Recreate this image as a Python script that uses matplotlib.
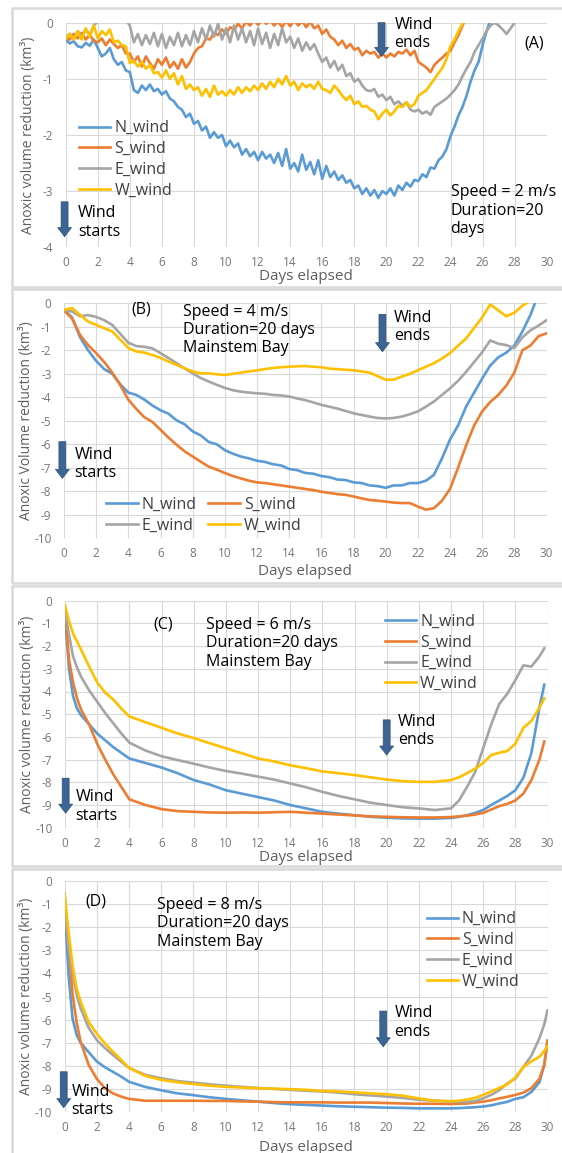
import numpy as np
import matplotlib.pyplot as plt
from matplotlib.patches import Rectangle

plt.rcParams['font.family'] = ['Open Sans', 'DejaVu Sans']
plt.rcParams['axes.unicode_minus'] = False

# ---------------- data ----------------
names = ['N_wind', 'S_wind', 'E_wind', 'W_wind']

# (A) 2 m/s, quarter-day readings
days_a = np.arange(0, 30.01, 0.25)
N_a = [-0.30, -0.37, -0.33, -0.42, -0.44, -0.36, -0.41, -0.30,
       -0.45, -0.60, -0.55, -0.45, -0.65, -0.75, -0.70, -0.85,
       -0.88, -1.20, -1.25, -1.12, -1.20, -1.10, -1.22, -1.18,
       -1.28, -1.22, -1.35, -1.40, -1.50, -1.55, -1.68, -1.62,
       -1.80, -1.75, -1.92, -1.85, -2.05, -1.95, -2.05, -2.00,
       -2.20, -2.10, -2.22, -2.15, -2.35, -2.25, -2.38, -2.30,
       -2.45, -2.30, -2.42, -2.35, -2.50, -2.32, -2.55, -2.25,
       -2.60, -2.50, -2.65, -2.35, -2.62, -2.48, -2.70, -2.45,
       -2.78, -2.55, -2.75, -2.65, -2.80, -2.72, -2.85, -2.80,
       -2.95, -2.90, -3.05, -2.95, -3.08, -2.98, -3.12, -3.00,
       -3.05, -2.95, -3.08, -2.90, -2.98, -2.85, -2.92, -2.80,
       -2.82, -2.70, -2.75, -2.58, -2.60, -2.45, -2.38, -2.25,
       -2.02, -1.85, -1.65, -1.50, -1.30, -1.05, -0.85, -0.70,
       -0.40, -0.15, 0.05, 0.20, 0.35]
S_a = [-0.25, -0.30, -0.20, -0.28, -0.18, -0.30, -0.22, -0.32,
       -0.35, -0.28, -0.40, -0.30, -0.38, -0.45, -0.40, -0.55,
       -0.55, -0.70, -0.60, -0.78, -0.60, -0.72, -0.82, -0.65,
       -0.75, -0.62, -0.80, -0.70, -0.82, -0.65, -0.80, -0.70,
       -0.55, -0.45, -0.42, -0.28, -0.30, -0.18, -0.22, -0.12,
       -0.20, -0.08, -0.12, -0.02, -0.10, 0.02, -0.05, 0.05,
       -0.04, 0.05, -0.02, 0.04, -0.05, 0.02, -0.08, 0.03,
       -0.06, 0.04, -0.05, 0.03, -0.08, 0.02, -0.10, -0.05,
       -0.20, -0.12, -0.25, -0.30, -0.40, -0.32, -0.45, -0.38,
       -0.48, -0.45, -0.58, -0.50, -0.55, -0.52, -0.62, -0.55,
       -0.62, -0.55, -0.60, -0.52, -0.55, -0.48, -0.58, -0.50,
       -0.70, -0.75, -0.80, -0.88, -0.75, -0.68, -0.62, -0.55,
       -0.50, -0.35, -0.22, -0.05, 0.10]
E_a = [-0.28, -0.20, -0.30, -0.15, -0.25, -0.12, -0.22, -0.05,
       0.02, 0.10, 0.15, 0.15, 0.20, 0.15, 0.10, 0.05,
       -0.05, -0.35, -0.20, -0.40, -0.22, -0.38, -0.18, -0.42,
       -0.20, -0.45, -0.25, -0.40, -0.18, -0.42, -0.22, -0.40,
       -0.15, -0.35, -0.10, -0.30, -0.05, -0.25, -0.02, -0.30,
       -0.10, -0.35, -0.05, -0.30, -0.10, -0.35, -0.15, -0.40,
       -0.10, -0.38, -0.18, -0.45, -0.20, -0.40, -0.10, -0.35,
       -0.25, -0.45, -0.28, -0.50, -0.35, -0.48, -0.38, -0.55,
       -0.70, -0.62, -0.80, -0.68, -0.85, -0.75, -0.95, -0.90,
       -1.05, -1.00, -1.12, -1.20, -1.22, -1.18, -1.32, -1.28,
       -1.38, -1.32, -1.45, -1.40, -1.48, -1.42, -1.55, -1.58,
       -1.55, -1.62, -1.58, -1.64, -1.50, -1.45, -1.40, -1.35,
       -1.28, -1.20, -1.10, -0.95, -0.82, -0.70, -0.52, -0.40,
       -0.28, -0.15, -0.05, 0.00, -0.05, -0.12, -0.20, -0.10,
       0.00]
W_a = [-0.28, -0.20, -0.30, -0.15, -0.30, -0.10, -0.25, -0.05,
       -0.28, -0.15, -0.22, -0.12, -0.35, -0.32, -0.40, -0.42,
       -0.72, -0.68, -0.78, -0.70, -0.82, -0.75, -0.90, -0.88,
       -0.98, -0.85, -1.00, -0.90, -1.10, -0.95, -1.18, -1.10,
       -1.20, -1.15, -1.30, -1.18, -1.32, -1.12, -1.28, -1.22,
       -1.30, -1.20, -1.28, -1.15, -1.25, -1.15, -1.22, -1.12,
       -1.20, -1.08, -1.18, -1.05, -1.15, -1.00, -1.10, -0.95,
       -1.12, -1.05, -1.20, -1.08, -1.15, -1.10, -1.18, -1.05,
       -1.18, -1.20, -1.25, -1.12, -1.20, -1.30, -1.38, -1.30,
       -1.45, -1.40, -1.50, -1.48, -1.55, -1.58, -1.72, -1.62,
       -1.55, -1.65, -1.58, -1.48, -1.50, -1.42, -1.50, -1.45,
       -1.30, -1.25, -1.20, -1.10, -1.00, -0.90, -0.80, -0.65,
       -0.42, -0.30, -0.15, -0.02, 0.10]

# (B) 4 m/s, half-day readings
days_b = np.arange(0, 30.01, 0.5)
N_b = [-0.28, -0.60, -1.45, -2.00, -2.45, -2.80, -3.00, -3.45, -3.80, -3.90,
       -4.10, -4.35, -4.55, -4.70, -4.98, -5.15, -5.45, -5.62, -5.90, -6.00,
       -6.25, -6.40, -6.52, -6.60, -6.70, -6.75, -6.85, -6.90, -7.05, -7.10,
       -7.22, -7.25, -7.35, -7.40, -7.50, -7.52, -7.62, -7.65, -7.75, -7.78,
       -7.85, -7.75, -7.75, -7.65, -7.65, -7.55, -7.30, -6.60, -5.80, -5.20,
       -4.40, -3.80, -3.20, -2.65, -2.30, -2.10, -1.80, -1.20, -0.50, 0.40,
       1.00]
S_b = [-0.30, -0.65, -1.35, -1.78, -2.12, -2.50, -2.95, -3.48, -4.10, -4.50,
       -4.85, -5.05, -5.38, -5.72, -6.02, -6.30, -6.52, -6.74, -6.95, -7.08,
       -7.22, -7.35, -7.45, -7.55, -7.62, -7.65, -7.70, -7.75, -7.80, -7.85,
       -7.90, -7.95, -8.02, -8.07, -8.12, -8.15, -8.22, -8.30, -8.37, -8.40,
       -8.44, -8.48, -8.50, -8.50, -8.65, -8.78, -8.72, -8.40, -7.90, -7.00,
       -6.05, -5.20, -4.60, -4.20, -3.90, -3.50, -2.95, -2.00, -1.80, -1.40,
       -1.28]
E_b = [-0.28, -0.35, -0.55, -0.50, -0.58, -0.72, -0.92, -1.30, -1.68, -1.82,
       -1.85, -1.92, -2.12, -2.33, -2.55, -2.77, -2.98, -3.18, -3.33, -3.47,
       -3.60, -3.70, -3.76, -3.80, -3.83, -3.85, -3.90, -3.92, -3.97, -4.05,
       -4.12, -4.22, -4.32, -4.40, -4.48, -4.58, -4.68, -4.75, -4.82, -4.88,
       -4.90, -4.88, -4.82, -4.72, -4.60, -4.40, -4.18, -3.90, -3.62, -3.30,
       -2.92, -2.50, -2.08, -1.58, -1.72, -1.78, -1.90, -1.45, -1.15, -0.95,
       -0.72]
W_b = [-0.28, -0.20, -0.50, -0.78, -0.92, -1.06, -1.20, -1.55, -1.90, -2.05,
       -2.10, -2.20, -2.32, -2.48, -2.62, -2.77, -2.90, -2.98, -2.98, -3.02,
       -3.05, -3.00, -2.95, -2.90, -2.85, -2.80, -2.75, -2.72, -2.70, -2.68,
       -2.67, -2.70, -2.72, -2.78, -2.80, -2.83, -2.85, -2.90, -2.95, -3.10,
       -3.25, -3.25, -3.12, -3.00, -2.85, -2.70, -2.55, -2.35, -2.12, -1.80,
       -1.50, -1.05, -0.60, -0.05, -0.30, -0.55, -0.40, -0.10, 0.10, 0.50,
       0.90]

# (C) 6 m/s
days_c = [0, 0.1, 0.25, 0.5, 0.75, 1, 1.5, 2, 2.5, 3, 3.5, 4,
          5, 6, 7, 8, 9, 10, 11, 12, 13, 14, 15, 16, 17, 18, 19, 20, 21, 22, 23, 24,
          24.5, 25, 25.5, 26, 26.5, 27, 27.5, 28, 28.5, 29, 29.5, 29.8]
N_c = [-0.40, -1.60, -3.00, -4.20, -4.75, -5.05, -5.45, -5.85, -6.15, -6.45, -6.70, -6.95,
       -7.15, -7.35, -7.60, -7.90, -8.10, -8.35, -8.50, -8.65, -8.80, -9.00, -9.15, -9.30,
       -9.38, -9.45, -9.52, -9.56, -9.59, -9.60, -9.60, -9.57,
       -9.52, -9.45, -9.35, -9.22, -9.00, -8.80, -8.60, -8.35, -7.80, -6.70, -4.70, -3.70]
S_c = [-0.30, -1.30, -2.60, -3.60, -4.30, -4.80, -5.45, -6.30, -7.00, -7.65, -8.20, -8.75,
       -9.00, -9.18, -9.27, -9.30, -9.33, -9.34, -9.33, -9.34, -9.32, -9.30, -9.34, -9.38,
       -9.42, -9.46, -9.50, -9.52, -9.54, -9.55, -9.55, -9.53,
       -9.50, -9.47, -9.42, -9.35, -9.20, -9.05, -8.95, -8.80, -8.50, -7.90, -7.00, -6.20]
E_c = [-0.30, -0.90, -1.50, -2.45, -2.95, -3.35, -3.95, -4.45, -4.95, -5.40, -5.85, -6.25,
       -6.60, -6.85, -7.02, -7.18, -7.35, -7.50, -7.62, -7.75, -7.88, -8.05, -8.22, -8.42,
       -8.60, -8.75, -8.90, -9.00, -9.10, -9.15, -9.22, -9.15,
       -8.80, -8.20, -7.55, -6.50, -5.45, -4.55, -4.10, -3.50, -2.85, -2.90, -2.45, -2.10]
W_c = [-0.20, -0.50, -0.90, -1.45, -1.80, -2.15, -2.90, -3.60, -4.05, -4.35, -4.75, -5.10,
       -5.35, -5.60, -5.85, -6.05, -6.28, -6.50, -6.72, -6.95, -7.08, -7.25, -7.38, -7.52,
       -7.60, -7.68, -7.78, -7.88, -7.95, -7.98, -7.98, -7.90,
       -7.78, -7.60, -7.40, -7.15, -6.80, -6.70, -6.62, -6.30, -5.60, -5.30, -4.70, -4.30]

# (D) 8 m/s
days_d = [0, 0.1, 0.25, 0.5, 0.75, 1, 1.5, 2, 2.5, 3, 3.5, 4,
          5, 6, 7, 8, 9, 10, 11, 12, 13, 14, 15, 16, 17, 18, 19, 20, 21, 22, 23, 24,
          24.5, 25, 25.5, 26, 26.5, 27, 27.5, 28, 28.5, 29, 29.5, 29.8, 30]
N_d = [-0.55, -2.20, -4.05, -5.95, -6.65, -7.00, -7.40, -7.80, -8.05, -8.25, -8.45, -8.68,
       -8.90, -9.05, -9.18, -9.26, -9.35, -9.42, -9.48, -9.54, -9.60, -9.65, -9.68, -9.71,
       -9.74, -9.76, -9.78, -9.80, -9.81, -9.83, -9.83, -9.83,
       -9.82, -9.80, -9.78, -9.75, -9.70, -9.62, -9.55, -9.42, -9.35, -9.12, -8.70, -7.95, -6.95]
S_d = [-0.55, -1.60, -2.90, -4.90, -6.10, -6.95, -7.95, -8.55, -8.95, -9.18, -9.32, -9.42,
       -9.50, -9.50, -9.50, -9.50, -9.51, -9.51, -9.53, -9.54, -9.56, -9.57, -9.57, -9.57,
       -9.58, -9.58, -9.58, -9.60, -9.62, -9.63, -9.63, -9.64,
       -9.63, -9.62, -9.58, -9.54, -9.48, -9.40, -9.33, -9.25, -9.15, -8.96, -8.55, -7.95, -6.90]
E_d = [-0.55, -1.80, -2.90, -4.05, -4.90, -5.50, -6.35, -6.88, -7.22, -7.52, -7.80, -8.08,
       -8.38, -8.53, -8.65, -8.72, -8.79, -8.85, -8.90, -8.95, -8.99, -9.03, -9.07, -9.10,
       -9.15, -9.22, -9.27, -9.32, -9.38, -9.46, -9.50, -9.53,
       -9.55, -9.55, -9.52, -9.40, -9.25, -9.05, -8.75, -8.55, -8.05, -7.55, -6.80, -6.20, -5.60]
W_d = [-0.55, -1.20, -2.20, -3.65, -4.65, -5.22, -6.10, -6.60, -7.02, -7.38, -7.72, -8.08,
       -8.42, -8.60, -8.70, -8.78, -8.85, -8.90, -8.93, -8.96, -8.98, -9.00, -9.03, -9.08,
       -9.10, -9.14, -9.18, -9.22, -9.28, -9.40, -9.50, -9.52,
       -9.50, -9.45, -9.38, -9.25, -9.10, -8.95, -8.80, -8.50, -8.05, -7.80, -7.60, -7.35, -7.15]

# ---------------- drawing ----------------
W, H = 562, 1153
fig = plt.figure(figsize=(W / 100, H / 100), dpi=100)
fig.patch.set_facecolor('white')

line_colors = ['#5B9BD5', '#ED7D31', '#A5A5A5', '#FFC000']
tick_grey = '#767676'
label_grey = '#5F5F5F'
legend_grey = '#404040'
text_size = 11.5


def add_panel(box, frame):
    # box / frame given as pixel edges: left, top, right, bottom
    fx0, fy0, fx1, fy1 = frame
    fig.patches.append(Rectangle((fx0 / W, 1 - fy1 / H), (fx1 - fx0) / W, (fy1 - fy0) / H,
                                 transform=fig.transFigure, fill=False,
                                 ec='#D9D9D9', lw=1.8))
    left, top, right, bottom = box
    return fig.add_axes([left / W, 1 - bottom / H, (right - left) / W, (bottom - top) / H])


def style(ax, ymin, ylabel, xlab_off):
    ax.set_xlim(0, 30)
    ax.set_ylim(ymin, 0)
    ax.set_xticks(np.arange(0, 31, 2))
    ax.set_yticks(np.arange(ymin, 1, 1))
    ax.grid(True, color='#D9D9D9', lw=0.8)
    ax.set_axisbelow(True)
    for s in ax.spines.values():
        s.set_visible(False)
    ax.tick_params(length=0, labelsize=8.5, colors=tick_grey)
    ax.tick_params(axis='x', pad=6.5)
    ax.tick_params(axis='y', pad=9)
    h_px = ax.get_position().height * H
    ax.set_xlabel('Days elapsed', fontsize=11, color=label_grey)
    ax.xaxis.set_label_coords(0.5, -xlab_off / h_px)
    ax.xaxis.label.set_va('center')
    ax.set_ylabel(ylabel, fontsize=10, color=label_grey)
    ax.yaxis.set_label_coords(-0.078, 0.5)
    ax.yaxis.label.set_va('center')


def draw_lines(ax, days, series):
    for name, vals, c in zip(names, series, line_colors):
        ax.plot(days[:len(vals)], vals, color=c, lw=1.9, label=name,
                solid_joinstyle='round')


def wind_arrow(ax, x, y0, y1):
    ax.annotate('', xy=(x, y1), xytext=(x, y0),
                arrowprops=dict(arrowstyle='simple,head_width=1.0,head_length=0.65,tail_width=0.5',
                                mutation_scale=10, fc='#3C6594', ec='#2D4E75', lw=0.5,
                                shrinkA=0, shrinkB=0),
                annotation_clip=False)


def note(ax, x, y, s, ha='left'):
    ax.text(x, y, s, fontsize=text_size, ha=ha, va='center', color='black', linespacing=1.2)


leg_kw = dict(loc='upper left', frameon=False, borderpad=0, borderaxespad=0,
              handletextpad=0.25, labelspacing=0.3, fontsize=text_size,
              labelcolor=legend_grey)

# panel A
ax = add_panel((65.7, 22.7, 546.7, 247.3), (12, 8, 575, 287))
draw_lines(ax, days_a, [N_a, S_a, E_a, W_a])
style(ax, -4, 'Anoxic volume reduction (km³)', 28.7)
ax.legend(bbox_to_anchor=(0.0267, 0.566), handlelength=2.0, **leg_kw)
wind_arrow(ax, 19.7, 0.0, -0.6)
note(ax, 20.5, -0.2, 'Wind\nends')
wind_arrow(ax, -0.07, -3.19, -3.81)
note(ax, 0.77, -3.56, 'Wind\nstarts')
note(ax, 29.2, -0.37, '(A)', ha='center')
note(ax, 24.0, -3.35, 'Speed = 2 m/s\nDuration=20\ndays')

# panel B
ax = add_panel((64, 303.3, 546.5, 538.3), (12, 289, 575, 583))
draw_lines(ax, days_b, [N_b, S_b, E_b, W_b])
style(ax, -10, 'Anoxic Volume reduction (km³)', 33.4)
h, l = ax.get_legend_handles_labels()
order = [0, 2, 1, 3]
ax.legend([h[i] for i in order], [l[i] for i in order], ncol=2, columnspacing=0.7,
          bbox_to_anchor=(0.0867, 0.176), handlelength=2.0, **leg_kw)
wind_arrow(ax, 19.8, -0.47, -2.06)
note(ax, 20.5, -1.0, 'Wind\nends')
wind_arrow(ax, -0.1, -5.89, -7.45)
note(ax, 0.66, -6.85, 'Wind\nstarts')
note(ax, 4.8, -0.28, '(B)', ha='center')
note(ax, 7.4, -1.14, 'Speed = 4 m/s\nDuration=20 days\nMainstem Bay')

# panel C
ax = add_panel((65, 600.7, 547.5, 827.7), (12, 586, 575, 866))
draw_lines(ax, days_c, [N_c, S_c, E_c, W_c])
style(ax, -10, 'Anoxic volume reduction (km³)', 29.6)
ax.legend(bbox_to_anchor=(0.663, 0.943), handlelength=1.95, **leg_kw)
wind_arrow(ax, 20.0, -5.25, -6.8)
note(ax, 20.7, -5.75, 'Wind\nends')
wind_arrow(ax, 0.04, -7.82, -9.36)
note(ax, 0.64, -9.07, 'Wind\nstarts')
note(ax, 6.1, -1.07, '(C)', ha='center')
note(ax, 8.75, -1.88, 'Speed = 6 m/s\nDuration=20 days\nMainstem Bay')

# panel D
ax = add_panel((64.5, 880.7, 547.5, 1112.3), (12, 869, 575, 1165))
draw_lines(ax, days_d, [N_d, S_d, E_d, W_d])
style(ax, -10, 'Anoxic volume reduction (km³)', 35.4)
ax.legend(bbox_to_anchor=(0.75, 0.868), handlelength=1.95, **leg_kw)
wind_arrow(ax, 19.8, -5.63, -7.17)
note(ax, 20.5, -6.13, 'Wind\nends')
wind_arrow(ax, -0.05, -8.25, -9.8)
note(ax, 0.45, -9.5, 'Wind\nstarts')
note(ax, 1.95, -0.88, '(D)', ha='center')
note(ax, 5.75, -1.84, 'Speed = 8 m/s\nDuration=20 days\nMainstem Bay')

fig.savefig('out.png', dpi=100, facecolor='white')
